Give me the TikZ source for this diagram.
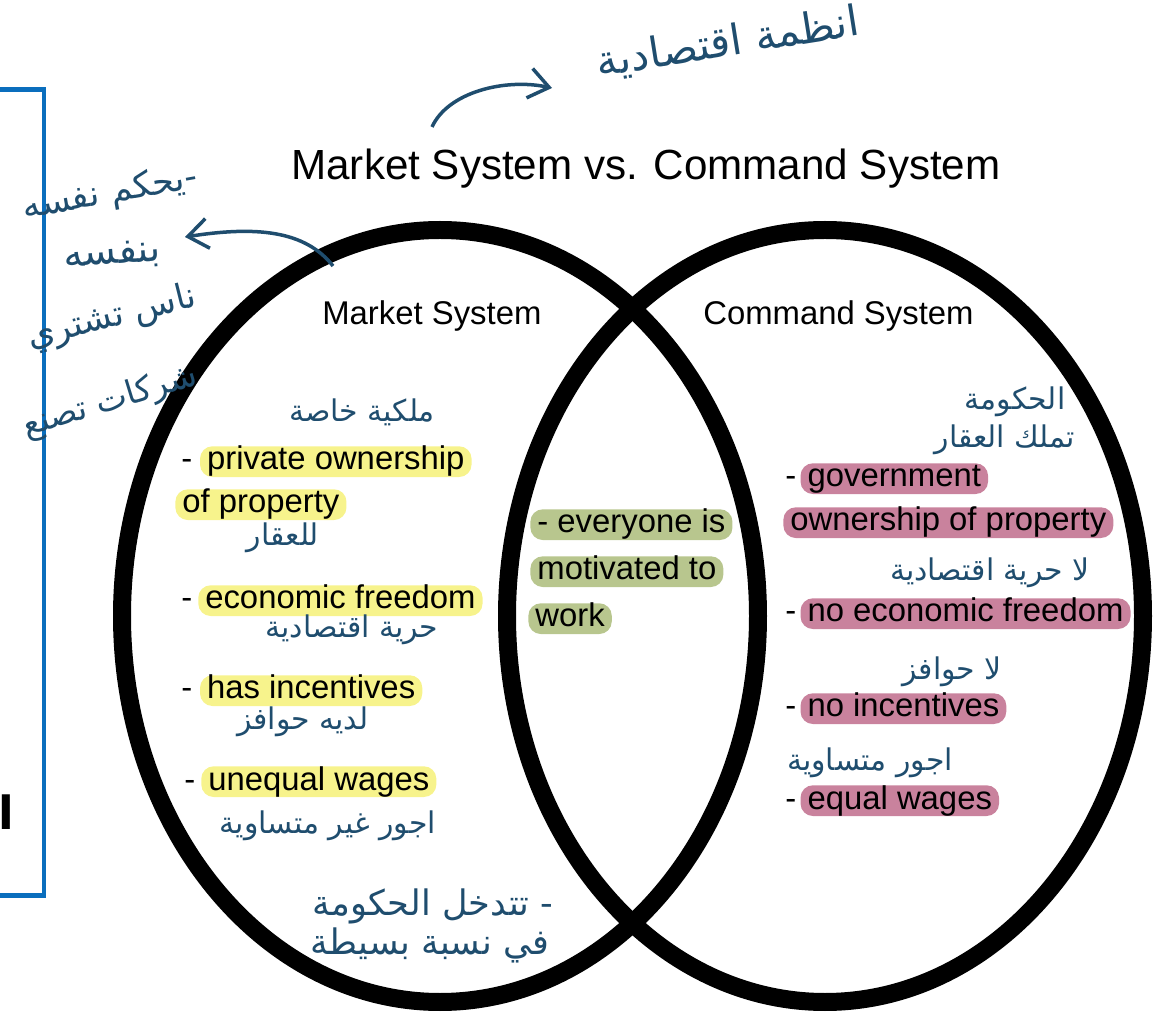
\documentclass[tikz,border=0pt]{standalone}
\usepackage{fontspec}
\setmainfont{Liberation Sans}
\newfontfamily\arabicfont[Script=Arabic]{DejaVu Sans}
\TeXXeTstate=1
\usetikzlibrary{positioning}
\usetikzlibrary{arrows.meta}
\definecolor{ink}{HTML}{1F4D6E}
\definecolor{boxblue}{HTML}{0A6EBD}
\definecolor{hlyellow}{HTML}{F7F38C}
\definecolor{hlgreen}{HTML}{B8C68E}
\definecolor{hlpink}{HTML}{C9829D}
\tikzset{circ/.style = {line width=0.36cm}}
\tikzset{item/.style = {font=\fontsize{18.7}{22}\selectfont, inner sep=0pt, anchor=base west}}
\tikzset{hl/.style = {item, fill=#1, rounded corners=0.25cm, inner xsep=4pt, inner ysep=1.5pt, text height=12pt, text depth=2.5pt}}
\tikzset{note/.style = {ink, inner sep=0pt, font=\arabicfont\fontsize{17}{20}\selectfont}}
\tikzset{hand/.style = {ink, line width=0.07cm, -{Straight Barb[length=0.4cm, width=0.6cm]}}}

\begin{document}
\begin{tikzpicture}[x=0.02cm, y=-0.02cm]
    \useasboundingbox (0,0) rectangle (1154,1013);

    \draw[boxblue, line width=0.1cm] (-10,90) -- (44,90) -- (44,895) -- (-10,895);

    \draw[circ] (440,616) ellipse [x radius=318, y radius=386];
    \draw[circ] (825,616) ellipse [x radius=318, y radius=386];

    \node[font=\fontsize{24}{28}\selectfont, anchor=base] (title) at (646,180) {Market System vs. Command System};
    \node[item] (mkt) at (322,325) {Market System};
    \node[item] (cmd) at (703,325) {Command System};

    \node[item] (d1) at (181,470) {-};
    \node[hl=hlyellow, base right=4pt of d1] (priv) {private ownership};
    \node[hl=hlyellow] (prop) at (175,513) {of property};
    \node[item] (d2) at (181,609) {-};
    \node[hl=hlyellow, base right=3pt of d2] (econ) {economic freedom};
    \node[item] (d3) at (181,699) {-};
    \node[hl=hlyellow, base right=4pt of d3] (inc) {has incentives};
    \node[item] (d4) at (184,790) {-};
    \node[hl=hlyellow, base right=3pt of d4] (uneq) {unequal wages};

    \node[hl=hlgreen] (every) at (530,533) {- everyone is};
    \node[hl=hlgreen] (motiv) at (530,580) {motivated to};
    \node[hl=hlgreen] (work) at (528,627) {work};

    \node[item] (d5) at (785,487) {-};
    \node[hl=hlpink, base right=2pt of d5] (gov) {government};
    \node[hl=hlpink] (govown) at (783,531) {ownership of property};
    \node[item] (d6) at (785,622) {-};
    \node[hl=hlpink, base right=2pt of d6] (noecon) {no economic freedom};
    \node[item] (d7) at (785,717) {-};
    \node[hl=hlpink, base right=2pt of d7] (noinc) {no incentives};
    \node[item] (d8) at (785,809) {-};
    \node[hl=hlpink, base right=2pt of d8] (eq) {equal wages};

    \node[note, rotate=9, font=\arabicfont\fontsize{24}{28}\selectfont] (systems) at (728,43) {\beginR انظمة اقتصادية\endR};
    \node[note, rotate=10, font=\arabicfont\fontsize{20}{24}\selectfont] (selfa) at (110,194) {\beginR -يحكم نفسه\endR};
    \node[note, rotate=4, font=\arabicfont\fontsize{22}{26}\selectfont] (selfb) at (112,256) {\beginR بنفسه\endR};
    \node[note, rotate=14, font=\arabicfont\fontsize{20}{24}\selectfont] (buy) at (112,318) {\beginR ناس تشتري\endR};
    \node[note, rotate=17, font=\arabicfont\fontsize{19}{23}\selectfont] (make) at (110,402) {\beginR شركات تصنع\endR};

    \node[note] (nprivate) at (362,412) {\beginR ملكية خاصة\endR};
    \node[note] (nestate) at (283,538) {\beginR للعقار\endR};
    \node[note] (nfree) at (352,630) {\beginR حرية اقتصادية\endR};
    \node[note] (ninc) at (303,722) {\beginR لديه حوافز\endR};
    \node[note] (nuneq) at (328,826) {\beginR اجور غير متساوية\endR};
    \node[note, font=\arabicfont\fontsize{20}{24}\selectfont] (ngova) at (433,906) {\beginR - تتدخل الحكومة\endR};
    \node[note, font=\arabicfont\fontsize{20}{24}\selectfont] (ngovb) at (430,945) {\beginR في نسبة بسيطة\endR};

    \node[note] (ngov) at (1015,402) {\beginR الحكومة\endR};
    \node[note] (nown) at (1005,440) {\beginR تملك العقار\endR};
    \node[note] (nnofree) at (990,573) {\beginR لا حرية اقتصادية\endR};
    \node[note] (nnoinc) at (952,672) {\beginR لا حوافز\endR};
    \node[note] (neq) at (870,763) {\beginR اجور متساوية\endR};

    \node[font=\arabicfont\bfseries\fontsize{26}{30}\selectfont, inner sep=0pt] (alef) at (6,812) {ا};

    \coordinate (topstart) at (432,127);
    \coordinate (topend) at (552,88);
    \draw[hand] (topstart) .. controls (448,92) and (505,78) .. (topend);
    \coordinate (leftstart) at (333,266);
    \coordinate (leftend) at (185,237);
    \draw[hand] (leftstart) .. controls (305,230) and (255,226) .. (leftend);
\end{tikzpicture}
\end{document}
